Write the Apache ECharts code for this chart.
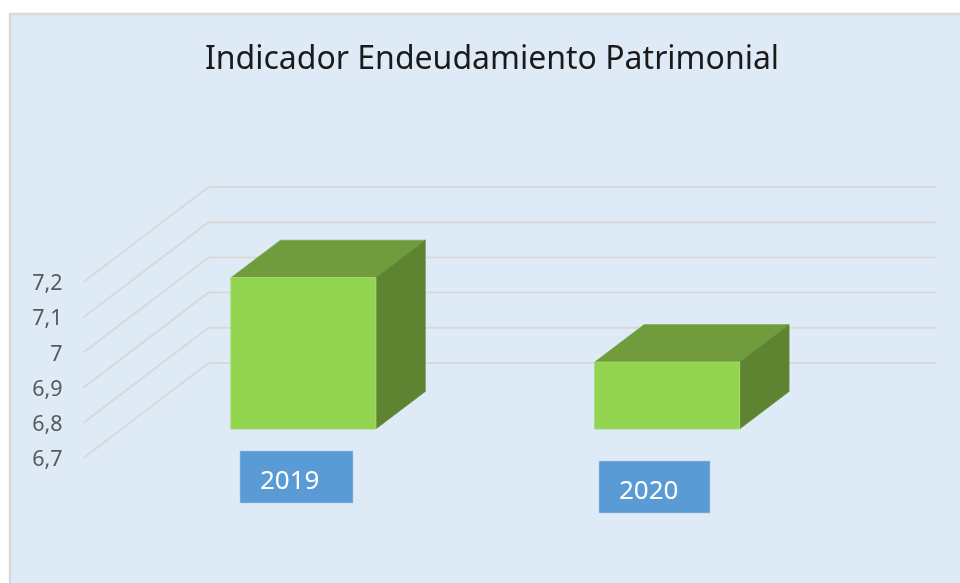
<!DOCTYPE html>
<html><head><meta charset="utf-8">
<style>html,body{margin:0;padding:0;background:#fff}#c{width:960px;height:583px}</style>
<script src="https://cdn.jsdelivr.net/npm/echarts@6/dist/echarts.min.js"></script>
</head><body><div id="c"></div>
<script>
const titleText = 'Indicador Endeudamiento Patrimonial';
const categories = ['2019', '2020'];
const values = [7.13, 6.89];
const tickValues = [6.7, 6.8, 6.9, 7.0, 7.1, 7.2];

const DX = 125, DY = -95;          // wall depth
const BAR_DX = 38, BAR_DY = -29;   // bar front offset from front plane
const DEPTH_DX = 49.5, DEPTH_DY = -37.5; // bar depth
const BAR_W = 145;
const RIGHT = 936;
const lineColor = '#D9D9D9';

const chart = echarts.init(document.getElementById('c'), null, {renderer:'canvas'});

function labelBox(i, x, y, w, h) {
  return [
    {type:'rect', z:10, shape:{x, y, width:w, height:h},
     style:{fill:'#5B9BD5', stroke:'#A9CBEA', lineWidth:0.6}},
    {type:'text', z:11, x:x+20, y:y+h/2+5,
     style:{text:categories[i], fill:'#fff', font:'26px "Noto Sans"', textAlign:'left', textVerticalAlign:'middle'}}
  ];
}

chart.setOption({
  animation:false,
  backgroundColor:'#fff',
  title:{text:titleText, left:487, top:39, textAlign:'center',
    textStyle:{fontFamily:'Noto Sans', fontSize:32, fontWeight:'normal', color:'#1a1a1a'}},
  grid:{left:83.5, top:282, width:727.5, height:176, containLabel:false},
  xAxis:{type:'category', data:categories, axisLine:{show:false}, axisTick:{show:false}, axisLabel:{show:false}, splitLine:{show:false}},
  yAxis:{type:'value', min:6.7, max:7.2, interval:0.1, axisLine:{show:false}, axisTick:{show:false}, splitLine:{show:false},
    axisLabel:{margin:21, verticalAlign:'middle',
      rich:{t:{color:'#595959', fontFamily:'Noto Sans', fontSize:21.5, padding:[4,0,0,0]}},
      formatter:v=>'{t|'+String(+v.toFixed(1)).replace('.',',')+'}'}},
  graphic:[
    {type:'rect', z:-10, silent:true, shape:{x:10, y:14, width:970, height:590},
     style:{fill:'#DEEAF6', stroke:'#D9D9D9', lineWidth:2.5}},
    ...labelBox(0, 240, 451, 113, 52),
    ...labelBox(1, 599, 461, 111, 52)
  ],
  series:[
    {type:'custom', z:1, coordinateSystem:'cartesian2d', silent:true,
     data:tickValues.map(v=>[0,v]),
     renderItem:(params,api)=>{
       const y = api.coord([0, api.value(1)])[1];
       const x0 = params.coordSys.x;
       return {type:'polyline', shape:{points:[[x0,y],[x0+DX,y+DY],[RIGHT,y+DY]]},
         style:{fill:'none', stroke:lineColor, lineWidth:2}};
     }},
    {type:'custom', z:2, coordinateSystem:'cartesian2d', silent:true,
     data:values.map((v,i)=>[i,v]),
     renderItem:(params,api)=>{
       const top = api.coord([api.value(0), api.value(1)]);
       const base = api.coord([api.value(0), 6.7]);
       const l = top[0]+BAR_DX-BAR_W/2, r = l+BAR_W;
       const t = top[1]+BAR_DY, b = base[1]+BAR_DY;
       const a = DEPTH_DX, d = DEPTH_DY;
       return {type:'group', children:[
         {type:'polygon', shape:{points:[[l,t],[r,t],[r+a,t+d],[l+a,t+d]]}, style:{fill:'#709C3E', stroke:'#709C3E', lineWidth:0.5}},
         {type:'polygon', shape:{points:[[r,t],[r+a,t+d],[r+a,b+d],[r,b]]}, style:{fill:'#5E8431', stroke:'#5E8431', lineWidth:0.5}},
         {type:'rect', shape:{x:l, y:t, width:BAR_W, height:b-t}, style:{fill:'#92D350', stroke:'#A5DA72', lineWidth:1}}
       ]};
     }}
  ]
});
</script></body></html>
